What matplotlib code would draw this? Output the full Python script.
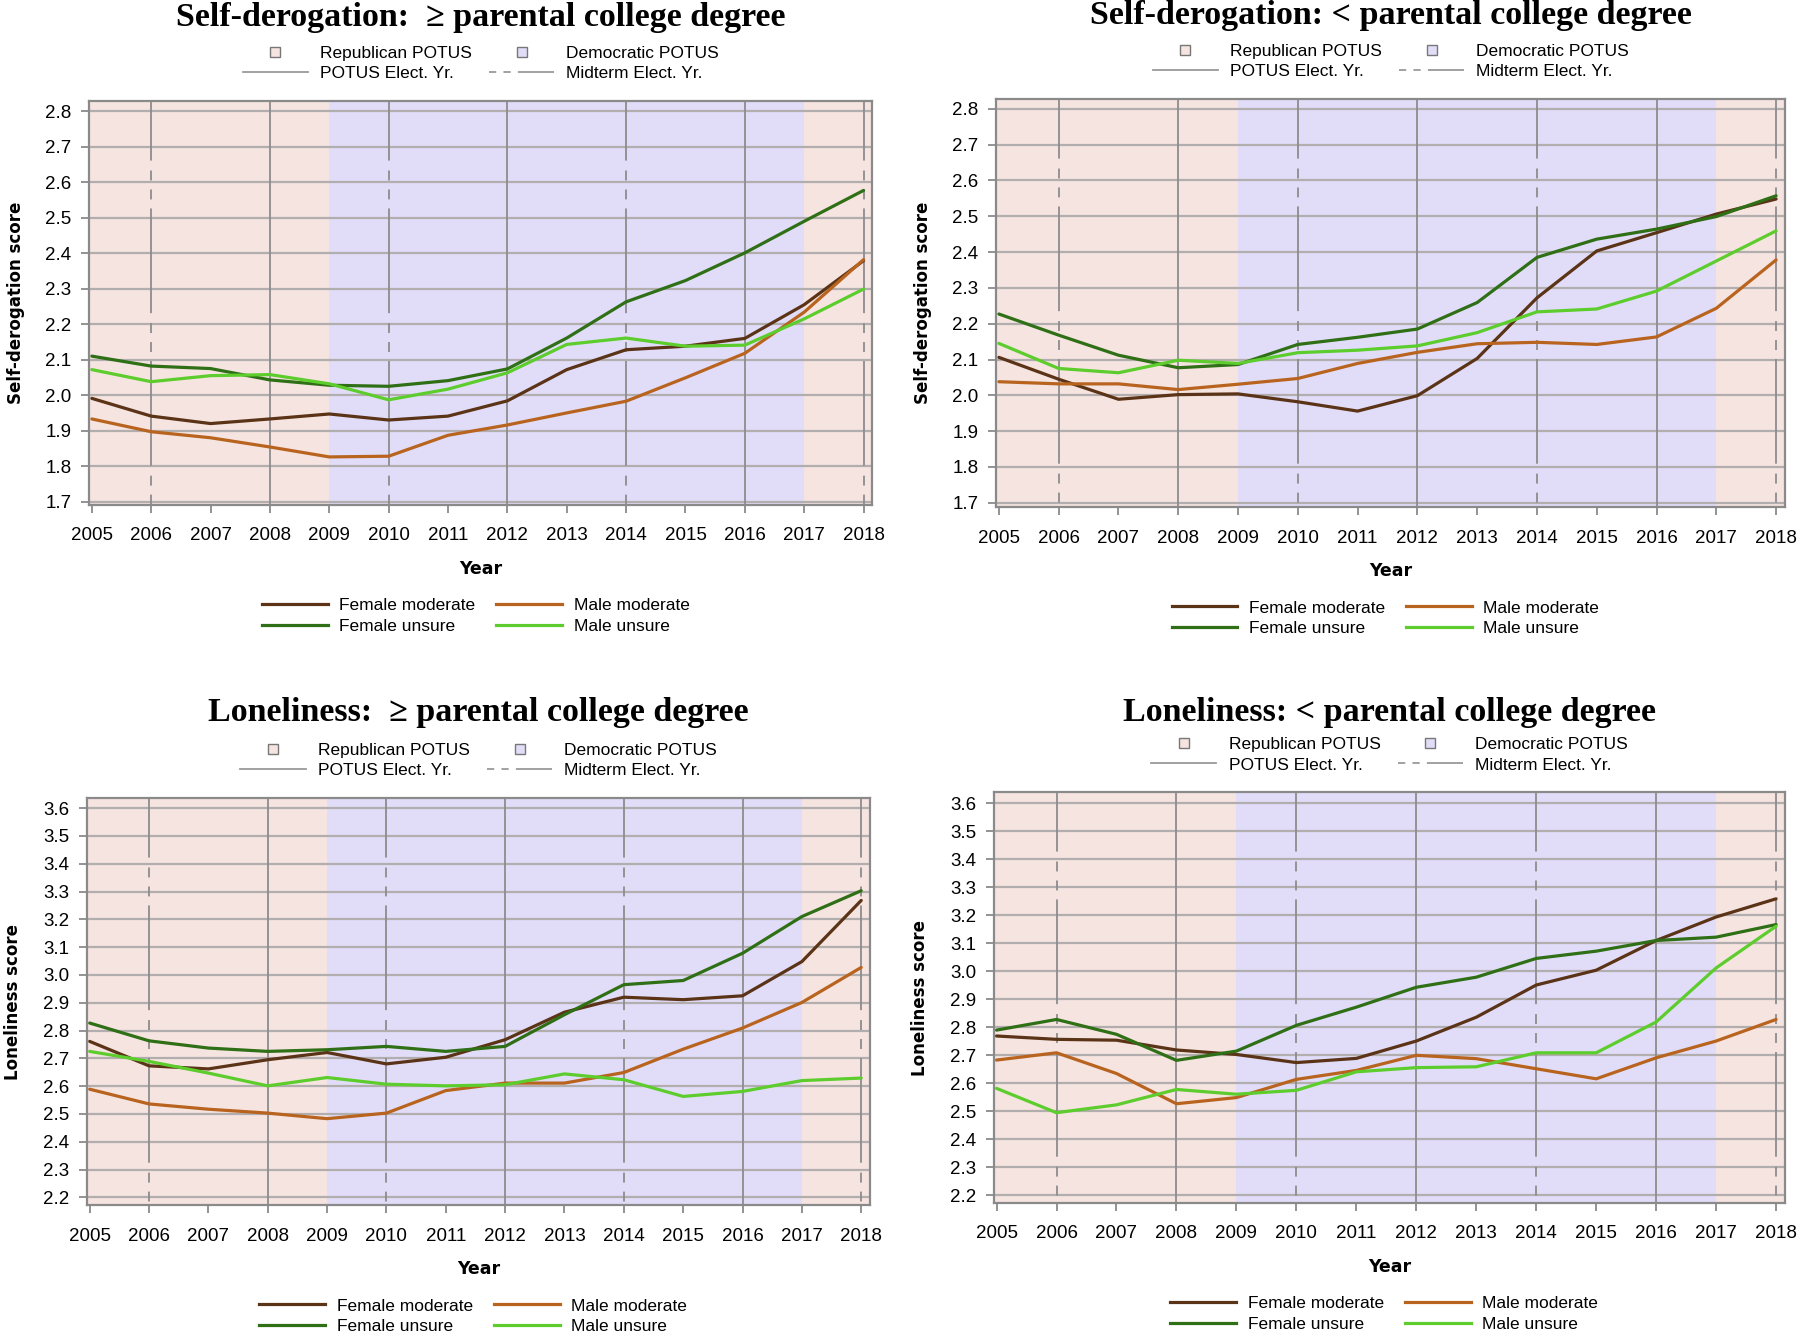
import matplotlib.pyplot as plt
from matplotlib.lines import Line2D

plt.rcParams['font.family'] = ['Liberation Sans', 'DejaVu Sans']

years = list(range(2005, 2019))
potus_years = [2008, 2012, 2016]
midterm_years = [2006, 2010, 2014, 2018]

# Self-derogation, >= parental college degree
sd_hi_fem_mod = [1.991, 1.941, 1.920, 1.933, 1.947, 1.930, 1.941, 1.984, 2.072, 2.128, 2.138, 2.160, 2.255, 2.379]
sd_hi_male_mod = [1.933, 1.897, 1.880, 1.854, 1.826, 1.828, 1.887, 1.916, 1.950, 1.983, 2.049, 2.118, 2.234, 2.382]
sd_hi_fem_uns = [2.110, 2.082, 2.075, 2.043, 2.028, 2.025, 2.041, 2.074, 2.161, 2.263, 2.323, 2.401, 2.490, 2.577]
sd_hi_male_uns = [2.072, 2.038, 2.055, 2.058, 2.032, 1.987, 2.017, 2.063, 2.143, 2.161, 2.138, 2.141, 2.215, 2.299]

# Self-derogation, < parental college degree
sd_lo_fem_mod = [2.106, 2.045, 1.989, 2.002, 2.004, 1.982, 1.956, 1.999, 2.103, 2.272, 2.403, 2.454, 2.506, 2.548]
sd_lo_male_mod = [2.038, 2.032, 2.032, 2.016, 2.031, 2.047, 2.089, 2.120, 2.144, 2.148, 2.142, 2.163, 2.243, 2.378]
sd_lo_fem_uns = [2.227, 2.168, 2.112, 2.077, 2.086, 2.142, 2.162, 2.185, 2.259, 2.385, 2.436, 2.464, 2.499, 2.557]
sd_lo_male_uns = [2.145, 2.075, 2.063, 2.098, 2.089, 2.119, 2.126, 2.138, 2.175, 2.233, 2.241, 2.291, 2.375, 2.459]

# Loneliness, >= parental college degree
lo_hi_fem_mod = [2.761, 2.673, 2.662, 2.695, 2.721, 2.680, 2.704, 2.767, 2.866, 2.920, 2.911, 2.925, 3.048, 3.268]
lo_hi_male_mod = [2.589, 2.536, 2.517, 2.503, 2.483, 2.503, 2.584, 2.611, 2.611, 2.649, 2.733, 2.809, 2.901, 3.027]
lo_hi_fem_uns = [2.827, 2.763, 2.737, 2.725, 2.731, 2.743, 2.725, 2.743, 2.857, 2.965, 2.980, 3.078, 3.210, 3.303]
lo_hi_male_uns = [2.725, 2.689, 2.647, 2.601, 2.631, 2.607, 2.601, 2.605, 2.644, 2.623, 2.563, 2.581, 2.620, 2.629]

# Loneliness, < parental college degree
lo_lo_fem_mod = [2.768, 2.756, 2.753, 2.718, 2.702, 2.673, 2.688, 2.750, 2.835, 2.950, 3.003, 3.109, 3.193, 3.258]
lo_lo_male_mod = [2.682, 2.708, 2.634, 2.526, 2.548, 2.613, 2.645, 2.699, 2.687, 2.651, 2.615, 2.690, 2.750, 2.827]
lo_lo_fem_uns = [2.789, 2.827, 2.774, 2.681, 2.714, 2.806, 2.871, 2.942, 2.978, 3.045, 3.071, 3.109, 3.121, 3.166]
lo_lo_male_uns = [2.581, 2.494, 2.522, 2.577, 2.560, 2.574, 2.640, 2.655, 2.658, 2.708, 2.708, 2.818, 3.011, 3.160]

titles = ['Self-derogation:  \u2265 parental college degree',
          'Self-derogation: < parental college degree',
          'Loneliness:  \u2265 parental college degree',
          'Loneliness: < parental college degree']
ylabels = ['Self-derogation score', 'Self-derogation score', 'Loneliness score', 'Loneliness score']
sd_ticks = [1.7, 1.8, 1.9, 2.0, 2.1, 2.2, 2.3, 2.4, 2.5, 2.6, 2.7, 2.8]
lo_ticks = [2.2, 2.3, 2.4, 2.5, 2.6, 2.7, 2.8, 2.9, 3.0, 3.1, 3.2, 3.3, 3.4, 3.5, 3.6]

series_names = ['Female moderate', 'Male moderate', 'Female unsure', 'Male unsure']
series_colors = ['#5b3317', '#b8641f', '#2f6f16', '#5ccd2c']
rep_color = '#f6e4e1'
dem_color = '#e1ddf9'
ref_color = '#8c8c8c'

panels = [
    dict(data=[sd_hi_fem_mod, sd_hi_male_mod, sd_hi_fem_uns, sd_hi_male_uns],
         rect=[0.0497, 0.6213, 0.435, 0.303], ylim=(1.69, 2.829), ticks=sd_ticks),
    dict(data=[sd_lo_fem_mod, sd_lo_male_mod, sd_lo_fem_uns, sd_lo_male_uns],
         rect=[0.5536, 0.6196, 0.4381, 0.3064], ylim=(1.687, 2.828), ticks=sd_ticks),
    dict(data=[lo_hi_fem_mod, lo_hi_male_mod, lo_hi_fem_uns, lo_hi_male_uns],
         rect=[0.0485, 0.0964, 0.4349, 0.3055], ylim=(2.171, 3.637), ticks=lo_ticks),
    dict(data=[lo_lo_fem_mod, lo_lo_male_mod, lo_lo_fem_uns, lo_lo_male_uns],
         rect=[0.5523, 0.0981, 0.4394, 0.3081], ylim=(2.171, 3.639), ticks=lo_ticks),
]
title_offsets = [0.0625, 0.0625, 0.0640, 0.0600]

fig = plt.figure(figsize=(18, 13.34), dpi=100)

xlim = (2004.96, 2018.15)
dash_pat = (25, (58, 5.5, 5.5, 5, 5.5, 5))

for i, p in enumerate(panels):
    ax = fig.add_axes(p['rect'])
    ax.set_xlim(xlim)
    ax.set_ylim(p['ylim'])

    # presidency shading
    ax.axvspan(xlim[0], 2009, color=rep_color, lw=0, zorder=0)
    ax.axvspan(2009, 2017, color=dem_color, lw=0, zorder=0)
    ax.axvspan(2017, xlim[1], color=rep_color, lw=0, zorder=0)

    for t in p['ticks']:
        ax.axhline(t, color='#b3aeae', lw=1.6, zorder=1)
    for yr in potus_years:
        ax.axvline(yr, color=ref_color, lw=1.3, zorder=2)
    for yr in midterm_years:
        ax.plot([yr, yr], [p['ylim'][1], p['ylim'][0]], color=ref_color, lw=1.3,
                linestyle=dash_pat, zorder=2)

    for vals, c in zip(p['data'], series_colors):
        ax.plot(years, vals, color=c, lw=2.3, zorder=3, solid_capstyle='round')

    ax.set_xticks(years)
    ax.set_yticks(p['ticks'])
    ax.set_yticklabels([f'{t:.1f}' for t in p['ticks']])
    ax.tick_params(direction='out', length=6, width=1.3, color='#8a8a8a',
                   labelsize=13.5)
    ax.tick_params(axis='x', pad=10)
    ax.tick_params(axis='y', pad=7)
    for s in ax.spines.values():
        s.set_color('#8a8a8a')
        s.set_linewidth(1.6)
        s.set_zorder(4)

    l, b, w, h = p['rect']
    cx = l + w / 2
    top = b + h
    fig.text(cx, top + title_offsets[i], titles[i], ha='center', va='center',
             family='Liberation Serif', weight='bold', fontsize=24.5)

    top_handles = [
        Line2D([], [], ls='none', marker='s', markersize=7, markerfacecolor=rep_color,
               markeredgecolor='#777777', markeredgewidth=1),
        Line2D([], [], color='#9a9a9a', lw=1.3),
        Line2D([], [], ls='none', marker='s', markersize=7, markerfacecolor=dem_color,
               markeredgecolor='#777777', markeredgewidth=1),
        Line2D([], [], color='#9a9a9a', lw=1.3, ls=(0, (4, 4, 4, 4, 18, 0))),
    ]
    top_labels = ['Republican POTUS', 'POTUS Elect. Yr.', 'Democratic POTUS', 'Midterm Elect. Yr.']
    fig.legend(top_handles, top_labels, loc='center', bbox_to_anchor=(cx, top + 0.028),
               ncol=2, frameon=False, fontsize=12.5, handlelength=3.75,
               handletextpad=0.7, columnspacing=1.0, labelspacing=0.3,
               borderaxespad=0, borderpad=0)

    fig.text(cx, b - 0.048, 'Year', ha='center', va='center',
             family='DejaVu Sans', weight='bold', fontsize=12.5)
    fig.text(l - 0.041, b + h / 2, ylabels[i], ha='center', va='center', rotation=90,
             family='DejaVu Sans', weight='bold', fontsize=12)

    bot_handles = [Line2D([], [], color=c, lw=2.3) for c in series_colors]
    order = [0, 2, 1, 3]
    fig.legend([bot_handles[k] for k in order], [series_names[k] for k in order],
               loc='center', bbox_to_anchor=(cx - 0.003, b - 0.083), ncol=2,
               frameon=False, fontsize=12.5, handlelength=3.8, handletextpad=0.66,
               columnspacing=1.2, labelspacing=0.3, borderaxespad=0, borderpad=0)

fig.savefig('out.png', dpi=100, facecolor='white')
